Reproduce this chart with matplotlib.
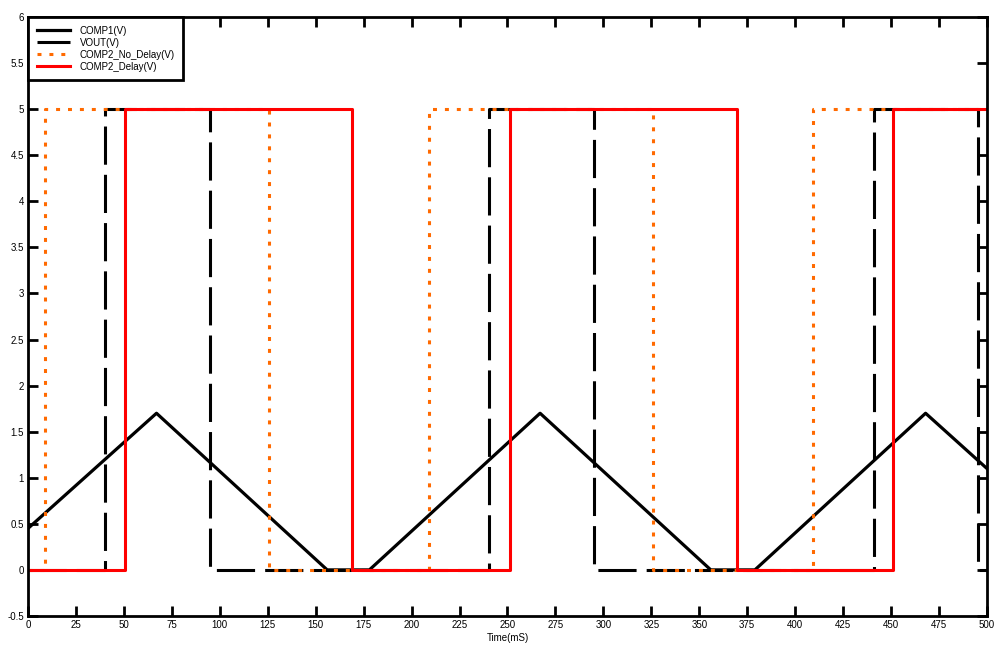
import matplotlib
matplotlib.use("Agg")
import matplotlib.pyplot as plt
from matplotlib.ticker import FormatStrFormatter

plt.rcParams['font.family'] = ['Liberation Sans', 'DejaVu Sans']

# data (time in mS, value in V)
comp1_t = [0, 67, 156, 178, 267, 356, 379, 468, 500]
comp1_v = [0.45, 1.7, 0, 0, 1.7, 0, 0, 1.7, 1.1]

vout_t = [0, 40, 95, 240.5, 295, 441, 495.5, 500]
vout_v = [0, 5, 0, 5, 0, 5, 0, 0]

nodelay_t = [0, 9, 125.7, 209, 326, 409.3, 500]
nodelay_v = [0, 5, 0, 5, 0, 5, 5]

delay_t = [0, 50.6, 169, 251.3, 369.7, 451, 500]
delay_v = [0, 5, 0, 5, 0, 5, 5]

fig = plt.figure(figsize=(10.07, 6.53), dpi=100)
ax = fig.add_axes([0.0278, 0.0567, 0.9523, 0.9173])

ax.plot(comp1_t, comp1_v, color='black', lw=2.3, label='COMP1(V)')
ax.plot(vout_t, vout_v, color='black', lw=2.2, drawstyle='steps-post',
        dashes=(12.5, 3.3), label='VOUT(V)')
ax.plot(nodelay_t, nodelay_v, color='#ff6a00', lw=2.2, drawstyle='steps-post',
        dashes=(1.3, 2.6), label='COMP2_No_Delay(V)')
ax.plot(delay_t, delay_v, color='#ff0000', lw=2.2, drawstyle='steps-post',
        label='COMP2_Delay(V)')

ax.set_xlim(0, 500)
ax.set_ylim(-0.5, 6)
ax.set_xticks(range(0, 501, 25))
ax.set_yticks([i * 0.5 for i in range(-1, 13)])
ax.yaxis.set_major_formatter(FormatStrFormatter('%g'))
ax.tick_params(direction='in', length=7, width=2, labelsize=7, pad=3,
               top=True, right=True)
for s in ax.spines.values():
    s.set_linewidth(2)

ax.set_xlabel('Time(mS)', fontsize=7, labelpad=2)

leg = ax.legend(loc='upper left', fontsize=7, frameon=True, fancybox=False,
                edgecolor='black', borderaxespad=0, handlelength=3.4,
                handletextpad=1.0, labelspacing=0.2, borderpad=0.9)
leg.get_frame().set_linewidth(2)
leg.get_frame().set_alpha(1)

fig.savefig('out.png', dpi=100)
